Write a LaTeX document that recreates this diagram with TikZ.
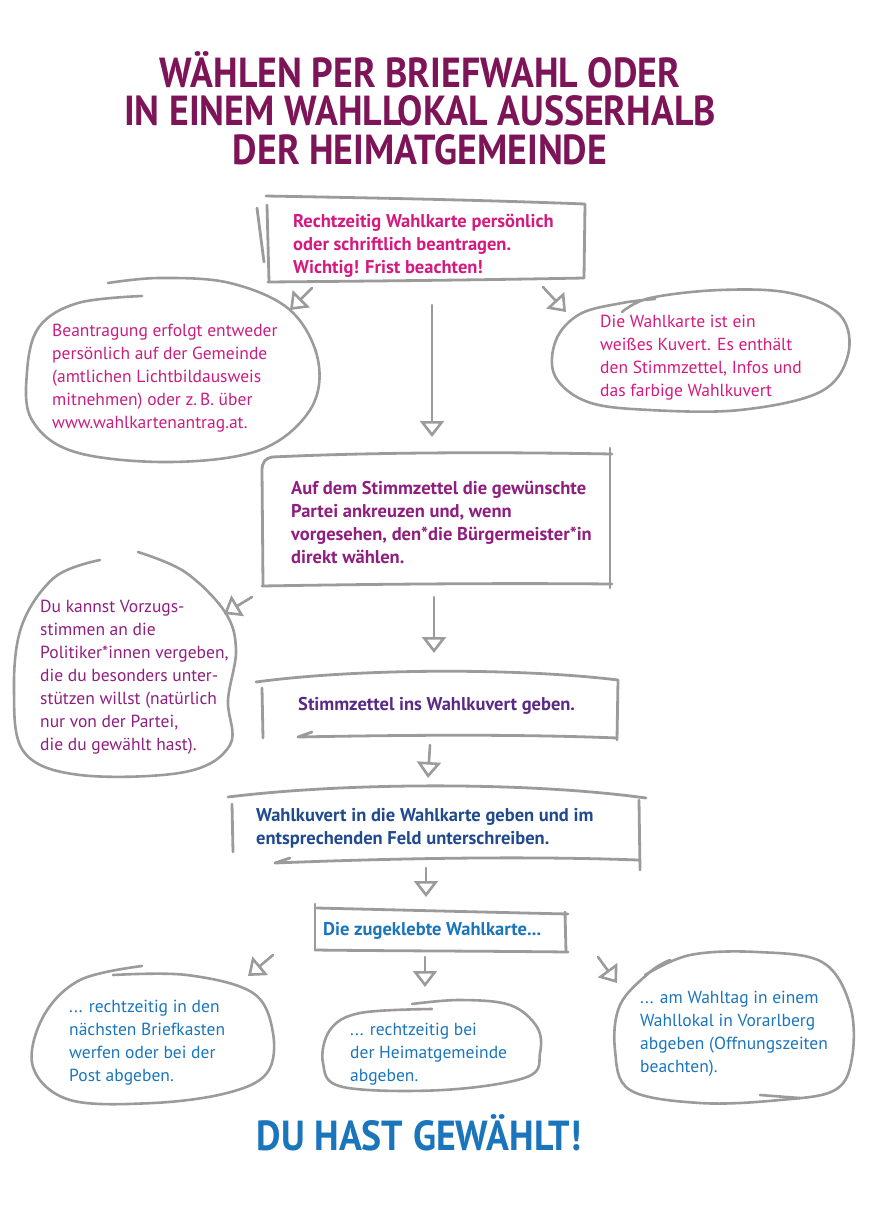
\documentclass[tikz,border=0pt]{standalone}
\usepackage{fontspec}
\setmainfont{PT Sans}
\newfontfamily\titlefont{PT Sans}[FakeStretch=0.9]
\usetikzlibrary{arrows.meta,positioning}
\definecolor{sketch}{HTML}{9B9B9B}
\definecolor{titlepurple}{HTML}{7E1458}
\definecolor{hotmagenta}{HTML}{D41A7F}
\definecolor{softmagenta}{HTML}{C81E80}
\definecolor{plum}{HTML}{8F1E7F}
\definecolor{violet}{HTML}{5A2A84}
\definecolor{navy}{HTML}{1F4A8E}
\definecolor{skyblue}{HTML}{1A75BB}
\tikzset{
frame/.style={draw=sketch,line width=2.8pt,line cap=round,line join=round},
bubble/.style={frame,line width=2.6pt},
sketcharrow/.style={draw=sketch,line width=2.6pt,line cap=round,-{Triangle[open,length=16pt,width=24pt]}},
boxtext/.style={anchor=base west,align=left,inner sep=0pt,font=\fontsize{18.5}{23}\selectfont\bfseries},
bubbletext/.style={anchor=base west,align=left,inner sep=0pt,font=\fontsize{17.5}{23}\selectfont},
headline/.style={align=center,inner sep=0pt,font=\fontsize{42}{38.5}\selectfont\titlefont\bfseries},
}
% note: the base anchor of a node with several lines sits on its last line

\begin{document}
\begin{tikzpicture}[x=1pt,y=-1pt]
    \useasboundingbox (0,0) rectangle (870,1229);

    % Title
    \node[headline,text=titlepurple,anchor=base] (title) at (420,164)
    {WÄHLEN PER BRIEFWAHL ODER\\IN EINEM WAHLLOKAL AUSSERHALB\\DER HEIMATGEMEINDE};

    % Step 1 (apply for the card)
    \node[boxtext,text=hotmagenta] (apply) at (293,273)
    {Rechtzeitig Wahlkarte persönlich\\oder schriftlich beantragen.\\Wichtig! Frist beachten!};
    \draw[frame] (266,196) .. controls (380,198) and (480,200) .. (585,204) -- (584,278);
    \draw[frame] (268,282) .. controls (380,281) and (480,280) .. (584,278);
    \draw[frame] (267,205) -- (269,282);
    \draw[frame] (257,208) -- (264,262);

    % Notes beside step 1
    \node[bubbletext,text=softmagenta] (howto) at (52,428)
    {Beantragung erfolgt entweder\\persönlich auf der Gemeinde\\(amtlichen Lichtbildausweis\\mitnehmen) oder z.\,B. über\\www.wahlkartenantrag.at.};
    \draw[bubble] plot[smooth,tension=0.6] coordinates {(142,296) (78,303) (39,327) (27,372) (32,420)
        (75,452) (170,462) (260,450) (310,410) (318,360) (290,310) (230,283) (160,278) (108,283)};

    \node[bubbletext,text=hotmagenta] (envelope) at (600,396)
    {Die Wahlkarte ist ein\\weißes Kuvert. Es enthält\\den Stimmzettel, Infos und\\das farbige Wahlkuvert};
    \draw[bubble] plot[smooth,tension=0.6] coordinates {(622,312) (650,298) (720,290) (790,293)
        (840,315) (848,355) (820,392) (740,410) (650,410) (588,402) (555,376) (556,340) (580,314) (622,303) (655,299)};

    % Step 2 (mark the ballot)
    \node[boxtext,text=plum] (mark) at (291,563)
    {Auf dem Stimmzettel die gewünschte\\Partei ankreuzen und, wenn\\vorgesehen, den*die Bürgermeister*in\\direkt wählen.};
    \draw[frame] (272,457) .. controls (380,452) and (500,452) .. (612,454);
    \draw[frame] (610,448) -- (610,588);
    \draw[frame] (262,586) .. controls (380,584) and (500,583) .. (612,584);
    \draw[frame] (263,585) -- (262,470) .. controls (262,462) and (266,458) .. (272,457);

    \node[bubbletext,text=plum] (prefvote) at (40,750)
    {Du kannst Vorzugs-\\stimmen an die\\Politiker*innen vergeben,\\die du besonders unter-\\stützen willst (natürlich\\nur von der Partei,\\die du gewählt hast).};
    \draw[bubble] plot[smooth,tension=0.6] coordinates {(138,552) (185,572) (225,612) (236,650)
        (228,700) (230,745) (185,772) (80,775) (24,752) (14,690) (22,625) (55,577) (100,560)};

    % Step 3 (ballot into envelope)
    \node[boxtext,text=violet] (insert) at (298,710) {Stimmzettel ins Wahlkuvert geben.};
    \draw[frame] (256,682) .. controls (360,668) and (520,668) .. (618,680) -- (617,740);
    \draw[frame] (312,732) -- (298,737) .. controls (400,735) and (520,734) .. (617,738);
    \draw[frame] (262,688) -- (263,738);

    % Step 4 (sign)
    \node[boxtext,text=navy] (sign) at (256,844)
    {Wahlkuvert in die Wahlkarte geben und im\\entsprechenden Feld unterschreiben.};
    \draw[frame] (228,797) .. controls (350,782) and (530,782) .. (646,798);
    \draw[frame] (639,800) -- (640,870);
    \draw[frame] (290,858) -- (275,863) .. controls (400,858) and (530,856) .. (638,860);
    \draw[frame] (232,804) -- (233,852);

    % Step 5 (sealed card)
    \node[boxtext,text=skyblue] (sealed) at (323,935) {Die zugeklebte Wahlkarte...};
    \draw[frame] (317,908) .. controls (400,910) and (480,912) .. (568,914);
    \draw[frame] (565,912) -- (566,952);
    \draw[frame] (315,950) .. controls (400,951) and (480,951) .. (568,952);
    \draw[frame] (315,904) -- (315,950);

    % Three ways to hand it in
    \node[bubbletext,text=skyblue] (postbox) at (69,1081)
    {... rechtzeitig in den\\nächsten Briefkasten\\werfen oder bei der\\Post abgeben.};
    \draw[bubble] plot[smooth,tension=0.6] coordinates {(113,975) (187,975) (253,993) (273,1033)
        (267,1073) (227,1093) (153,1103) (70,1100) (33,1067) (43,1017) (80,980) (142,966)};

    \node[bubbletext,text=skyblue] (hometown) at (350,1081)
    {... rechtzeitig bei\\der Heimatgemeinde\\abgeben.};
    \draw[bubble] plot[smooth,tension=0.6] coordinates {(412,1004) (460,1000) (510,1005) (537,1027)
        (540,1053) (527,1077) (443,1090) (343,1087) (323,1063) (330,1030) (360,1013) (432,1009)};

    \node[bubbletext,text=skyblue] (pollstation) at (640,1072)
    {... am Wahltag in einem\\Wahllokal in Vorarlberg\\abgeben (Offnungszeiten\\beachten).};
    \draw[bubble] plot[smooth,tension=0.6] coordinates {(645,975) (690,955) (757,952) (822,962)
        (850,1005) (852,1058) (835,1090) (780,1100) (700,1103) (630,1090) (615,1050) (620,1005) (650,972) (670,960)};
    \draw[bubble] (760,1095) -- (800,1098);

    % Arrows
    \coordinate (a1s) at (312,288); \coordinate (a1e) at (290,310);
    \coordinate (a2s) at (543,287); \coordinate (a2e) at (566,312);
    \coordinate (a3s) at (432,305); \coordinate (a3e) at (432,437);
    \coordinate (a4s) at (252,597); \coordinate (a4e) at (224,614);
    \coordinate (a5s) at (434,597); \coordinate (a5e) at (434,653);
    \coordinate (a6s) at (430,745); \coordinate (a6e) at (428,778);
    \coordinate (a7s) at (426,868); \coordinate (a7e) at (426,897);
    \coordinate (a8s) at (273,955); \coordinate (a8e) at (248,976);
    \coordinate (a9s) at (425,957); \coordinate (a9e) at (425,987);
    \coordinate (a10s) at (598,957); \coordinate (a10e) at (617,983);
    \foreach \i in {1,...,10}
        \draw[sketcharrow] (a\i s) -- (a\i e);

    % Closing line
    \node[headline,text=skyblue,font=\fontsize{42}{42}\selectfont\titlefont\bfseries,anchor=base] (done) at (419,1150)
    {DU HAST GEWÄHLT!};

\end{tikzpicture}
\end{document}
